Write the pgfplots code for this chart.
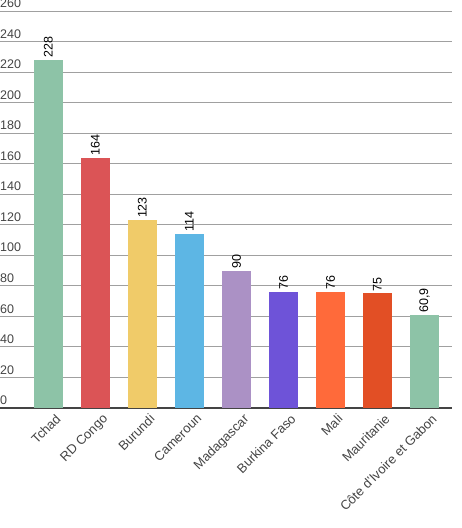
\documentclass[border=0pt]{standalone}
\usepackage{fontspec}
\setmainfont{Liberation Sans}
\usepackage{pgfplots}
\pgfplotsset{compat=1.18}

\definecolor{cGreen}{HTML}{8DC3A7}
\definecolor{cRed}{HTML}{DB5456}
\definecolor{cYellow}{HTML}{F0CB69}
\definecolor{cBlue}{HTML}{5DB6E4}
\definecolor{cLilac}{HTML}{AB91C5}
\definecolor{cPurple}{HTML}{6E53D8}
\definecolor{cOrange}{HTML}{FF6A3A}
\definecolor{cDarkOrange}{HTML}{E24F25}
\definecolor{txt}{HTML}{444444}
\definecolor{gridc}{HTML}{A0A0A0}

\begin{document}
\begin{tikzpicture}[x=1pt,y=1pt]
\useasboundingbox (0,-120) rectangle (462,408);
\begin{axis}[
    at={(0,0)}, anchor=south west,
    scale only axis,
    width=452pt, height=397pt,
    xmin=-1.03, xmax=8.585,
    ymin=0, ymax=260,
    ytick={0,20,...,260},
    xtick={0,...,8},
    xticklabels={Tchad, RD Congo, Burundi, Cameroun, Madagascar,
        Burkina Faso, Mali, Mauritanie, Côte d'Ivoire et Gabon},
    axis x line*=bottom,
    axis y line*=left,
    x axis line style={line width=2pt, color=txt},
    y axis line style={draw=none},
    major tick length=0pt,
    ymajorgrids=true,
    grid style={color=gridc, line width=0.9pt},
    /pgf/number format/assume math mode=true,
    /pgf/number format/use comma,
    yticklabel style={anchor=south west, inner sep=0pt, yshift=3pt,
        font=\fontsize{12.5}{14}\selectfont, text=txt},
    xticklabel style={rotate=45, anchor=north east, inner sep=0pt,
        xshift=1pt, yshift=-8pt,
        font=\fontsize{13}{15}\selectfont, text=txt},
    ybar, bar width=29pt,
    nodes near coords,
    every node near coord/.append style={rotate=90, anchor=west,
        font=\fontsize{12.5}{14}\selectfont, text=black, inner sep=2pt},
]
\addplot[fill=cGreen, draw=none, bar shift=0pt] coordinates {(0,228)};
\addplot[fill=cRed, draw=none, bar shift=0pt] coordinates {(1,164)};
\addplot[fill=cYellow, draw=none, bar shift=0pt] coordinates {(2,123)};
\addplot[fill=cBlue, draw=none, bar shift=0pt] coordinates {(3,114)};
\addplot[fill=cLilac, draw=none, bar shift=0pt] coordinates {(4,90)};
\addplot[fill=cPurple, draw=none, bar shift=0pt] coordinates {(5,76)};
\addplot[fill=cOrange, draw=none, bar shift=0pt] coordinates {(6,76)};
\addplot[fill=cDarkOrange, draw=none, bar shift=0pt] coordinates {(7,75)};
\addplot[fill=cGreen, draw=none, bar shift=0pt] coordinates {(8,60.9)};
\end{axis}
\end{tikzpicture}
\end{document}
